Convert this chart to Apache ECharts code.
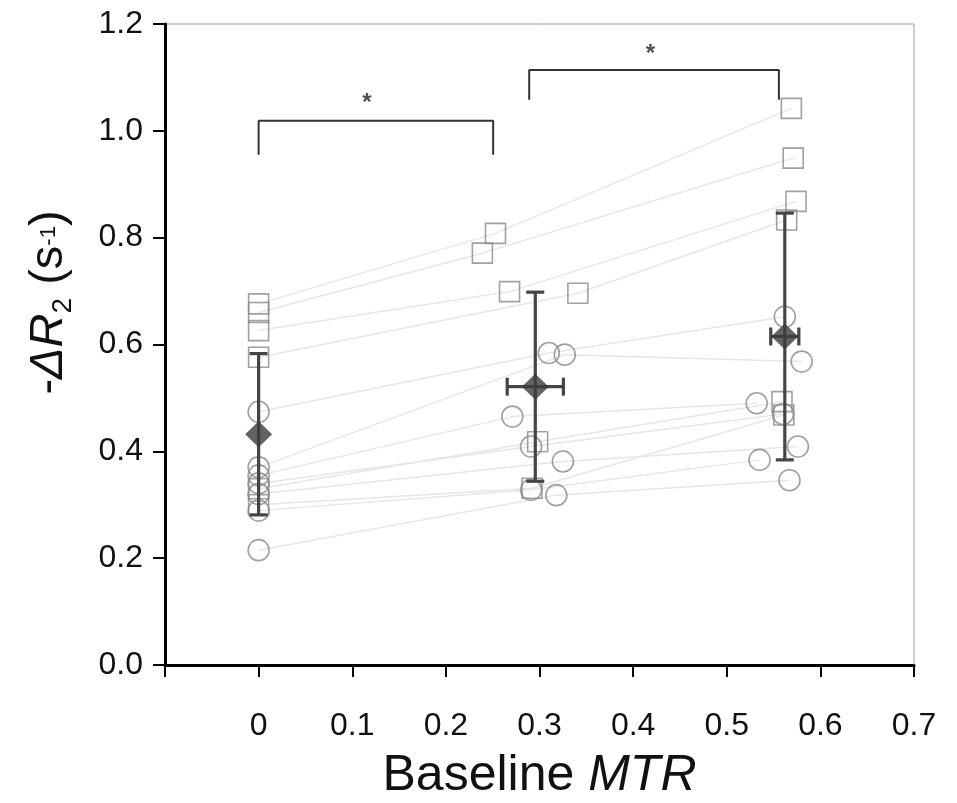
<!DOCTYPE html>
<html>
<head>
<meta charset="utf-8">
<script src="https://cdn.jsdelivr.net/npm/echarts@6/dist/echarts.min.js"></script>
<style>
html,body{margin:0;padding:0;background:#fff;}
#chart{width:957px;height:803px;}
</style>
</head>
<body>
<div id="chart"></div>
<script>
// ---- data ----
// squares: one subject per index, three sessions (left, middle, right)
const squareX0 = [0, 0, 0, 0, 0, 0];
const squareY0 = [0.676, 0.660, 0.626, 0.576, 0.330, 0.300];
const squareX1 = [0.253, 0.239, 0.268, 0.341, 0.298, 0.292];
const squareY1 = [0.808, 0.771, 0.699, 0.696, 0.418, 0.331];
const squareX2 = [0.569, 0.571, 0.574, 0.564, 0.559, 0.561];
const squareY2 = [1.042, 0.949, 0.868, 0.833, 0.493, 0.468];

// circles
const circleX0 = [0, 0, 0, 0, 0, 0, 0];
const circleY0 = [0.474, 0.370, 0.355, 0.340, 0.320, 0.289, 0.215];
const circleX1 = [0.310, 0.327, 0.271, 0.291, 0.325, 0.291, 0.318];
const circleY1 = [0.584, 0.581, 0.465, 0.409, 0.381, 0.328, 0.318];
const circleX2 = [0.562, 0.580, 0.532, 0.560, 0.576, 0.535, 0.567];
const circleY2 = [0.652, 0.568, 0.490, 0.470, 0.409, 0.384, 0.346];

// group means with SD
const meanX = [0, 0.2955, 0.562];
const meanY = [0.432, 0.521, 0.615];
const sdY   = [0.151, 0.177, 0.231];
const sdX   = [0, 0.030, 0.015];

// significance brackets and star positions
const bracketX1 = [0, 0.289];
const bracketX2 = [0.2505, 0.5557];
const bracketTop = [1.019, 1.114];
const bracketLeg = [0.955, 1.058];
const starX = [0.1156, 0.4186];
const starY = [1.064, 1.157];
const starText = ['*', '*'];

const xTicks = [0, 0.1, 0.2, 0.3, 0.4, 0.5, 0.6, 0.7];
const yTicks = [0.0, 0.2, 0.4, 0.6, 0.8, 1.0, 1.2];

// ---- build chart ----
const FONT = "'Liberation Sans', Arial, sans-serif";
const series = [];

function addSubjectLines(xs0, ys0, xs1, ys1, xs2, ys2) {
  for (let i = 0; i < ys0.length; i++) {
    series.push({
      type: 'line',
      data: [[xs0[i], ys0[i]], [xs1[i], ys1[i]], [xs2[i], ys2[i]]],
      symbol: 'none',
      lineStyle: { color: '#e6e6e6', width: 1.5 },
      z: 1, silent: true, animation: false
    });
  }
}
addSubjectLines(squareX0, squareY0, squareX1, squareY1, squareX2, squareY2);
addSubjectLines(circleX0, circleY0, circleX1, circleY1, circleX2, circleY2);

function pts(xsList, ysList) {
  const out = [];
  xsList.forEach((xs, k) => xs.forEach((x, i) => out.push([x, ysList[k][i]])));
  return out;
}
series.push({
  type: 'scatter', name: 'squares',
  data: pts([squareX0, squareX1, squareX2], [squareY0, squareY1, squareY2]),
  symbol: 'rect', symbolSize: 20,
  itemStyle: { color: 'rgba(0,0,0,0)', borderColor: '#8a8a8a', borderWidth: 1.6 },
  z: 2, animation: false
});
series.push({
  type: 'scatter', name: 'circles',
  data: pts([circleX0, circleX1, circleX2], [circleY0, circleY1, circleY2]),
  symbol: 'circle', symbolSize: 21,
  itemStyle: { color: 'rgba(0,0,0,0)', borderColor: '#8a8a8a', borderWidth: 1.6 },
  z: 2, animation: false
});

// error bars
series.push({
  type: 'custom',
  data: meanX.map((x, i) => [x, meanY[i], sdY[i], sdX[i]]),
  renderItem: function (params, api) {
    const x = api.value(0), y = api.value(1), sy = api.value(2), sx = api.value(3);
    const c = api.coord([x, y]);
    const top = api.coord([x, y + sy]);
    const bot = api.coord([x, y - sy]);
    const cap = 9;
    const st = { stroke: '#454545', lineWidth: 3.2 };
    const children = [
      { type: 'line', shape: { x1: c[0], y1: top[1], x2: c[0], y2: bot[1] }, style: st },
      { type: 'line', shape: { x1: c[0] - cap, y1: top[1], x2: c[0] + cap, y2: top[1] }, style: st },
      { type: 'line', shape: { x1: c[0] - cap, y1: bot[1], x2: c[0] + cap, y2: bot[1] }, style: st }
    ];
    if (sx > 0) {
      const l = api.coord([x - sx, y]);
      const r = api.coord([x + sx, y]);
      children.push(
        { type: 'line', shape: { x1: l[0], y1: c[1], x2: r[0], y2: c[1] }, style: st },
        { type: 'line', shape: { x1: l[0], y1: c[1] - cap, x2: l[0], y2: c[1] + cap }, style: st },
        { type: 'line', shape: { x1: r[0], y1: c[1] - cap, x2: r[0], y2: c[1] + cap }, style: st }
      );
    }
    return { type: 'group', children: children };
  },
  z: 3, animation: false
});

// mean diamonds
series.push({
  type: 'scatter', name: 'mean',
  data: meanX.map((x, i) => [x, meanY[i]]),
  symbol: 'diamond', symbolSize: [27, 26],
  itemStyle: { color: '#3c3c3c' },
  z: 4, animation: false
});

// brackets
for (let i = 0; i < bracketX1.length; i++) {
  series.push({
    type: 'line',
    data: [[bracketX1[i], bracketLeg[i]], [bracketX1[i], bracketTop[i]], [bracketX2[i], bracketTop[i]], [bracketX2[i], bracketLeg[i]]],
    symbol: 'none',
    lineStyle: { color: '#333', width: 2 },
    z: 5, silent: true, animation: false
  });
}
series.push({
  type: 'scatter',
  data: starX.map((x, i) => ({ value: [x, starY[i]], label: { formatter: starText[i] } })),
  symbolSize: 0,
  label: { show: true, position: 'inside', offset: [0, 7], fontSize: 24, fontWeight: 'bold', color: '#222', fontFamily: FONT },
  z: 5, silent: true, animation: false
});

const option = {
  animation: false,
  backgroundColor: '#ffffff',
  grid: { left: 165, right: 43, top: 24, bottom: 138, outerBoundsMode: 'none', containLabel: false, show: true, borderColor: '#9a9a9a', borderWidth: 1, backgroundColor: 'transparent' },
  xAxis: {
    type: 'value', min: -0.1, max: 0.7, interval: 0.1,
    axisLine: { show: true, onZero: false, lineStyle: { color: '#000', width: 3 } },
    axisTick: { show: true, length: 12, lineStyle: { color: '#000', width: 2 } },
    splitLine: { show: false },
    axisLabel: {
      fontSize: 32, color: '#111', margin: 45, fontFamily: FONT,
      formatter: function (v) {
        if (v < -1e-9) return '';
        const m = xTicks.find(t => Math.abs(t - v) < 1e-6);
        if (m === undefined) return '';
        return m === 0 ? '0' : m.toFixed(1);
      }
    },
    name: '{n|Baseline }{i|MTR}',
    nameLocation: 'middle', nameGap: 86,
    nameTextStyle: {
      color: '#111', fontFamily: FONT,
      rich: {
        n: { fontSize: 50, fontFamily: FONT, color: '#111' },
        i: { fontSize: 50, fontFamily: FONT, fontStyle: 'italic', color: '#111' }
      }
    }
  },
  yAxis: {
    type: 'value', min: 0, max: 1.2, interval: 0.2,
    axisLine: { show: true, onZero: false, lineStyle: { color: '#000', width: 3 } },
    axisTick: { show: true, length: 12, lineStyle: { color: '#000', width: 2 } },
    splitLine: { show: false },
    axisLabel: {
      fontSize: 32, color: '#111', margin: 22, fontFamily: FONT,
      formatter: function (v) {
        const m = yTicks.find(t => Math.abs(t - v) < 1e-6);
        return m === undefined ? '' : m.toFixed(1);
      }
    },
    name: '{n|-}{i|ΔR}{sub|2}{n| (s}{sup|-1}{n|)}',
    nameLocation: 'middle', nameGap: 88, nameRotate: 90,
    nameTextStyle: {
      color: '#111', fontFamily: FONT, padding: [0, 0, 0, 84],
      rich: {
        n: { fontSize: 47, lineHeight: 56, fontFamily: FONT, color: '#111' },
        i: { fontSize: 47, lineHeight: 56, fontFamily: FONT, fontStyle: 'italic', color: '#111' },
        sub: { fontSize: 28, lineHeight: 10, verticalAlign: 'bottom', fontFamily: FONT, color: '#111' },
        sup: { fontSize: 22, lineHeight: 22, fontFamily: FONT, color: '#111' }
      }
    }
  },
  series: series
};

const chart = echarts.init(document.getElementById('chart'), null, { renderer: 'canvas' });
chart.setOption(option);
</script>
</body>
</html>
